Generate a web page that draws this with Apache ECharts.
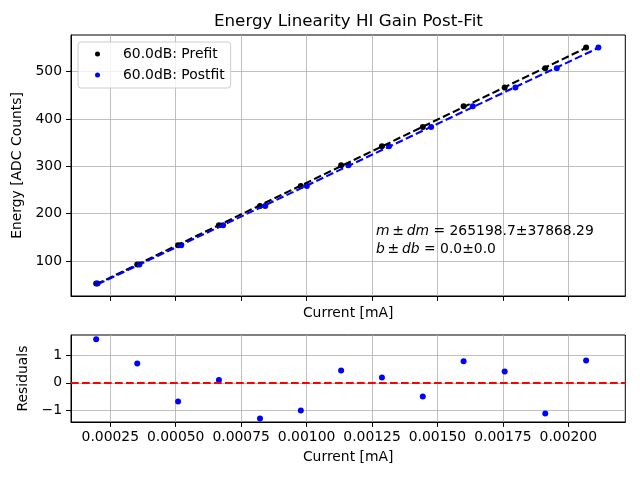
<!DOCTYPE html>
<html>
<head>
<meta charset="utf-8">
<script src="https://cdn.jsdelivr.net/npm/echarts@6/dist/echarts.min.js"></script>
<style>html,body{margin:0;padding:0;background:#fff}#chart{width:640px;height:480px}</style>
</head>
<body>
<div id="chart"></div>
<script>
// ---- data ----
const currentPrefit  = [0.000196, 0.000353, 0.000509, 0.000665, 0.000822, 0.000978, 0.001132, 0.001288, 0.001444, 0.001600, 0.001757, 0.001912, 0.002068];
const currentPostfit = [0.000201, 0.000361, 0.000521, 0.000681, 0.000842, 0.001001, 0.001160, 0.001315, 0.001476, 0.001635, 0.001798, 0.001956, 0.002115];
const energy         = [52.2, 92.4, 133.2, 175.5, 216.3, 258.6, 302.3, 342.5, 383.3, 427.0, 466.6, 507.4, 551.2];
const residuals      = [1.58, 0.70, -0.68, 0.10, -1.30, -1.01, 0.45, 0.19, -0.50, 0.78, 0.41, -1.12, 0.81];
const xTicks         = [0.00025, 0.0005, 0.00075, 0.001, 0.00125, 0.0015, 0.00175, 0.002];
const energyTicks    = [100, 200, 300, 400, 500];
const residualTicks  = [-1, 0, 1];
const legendNames    = ['60.0dB: Prefit', '60.0dB: Postfit'];
const titleText      = 'Energy Linearity HI Gain Post-Fit';

function zip(xs, ys) { return xs.map((x, i) => [x, ys[i]]); }
function linFit(xs, ys) {
  const n = xs.length;
  const mx = xs.reduce((a, b) => a + b, 0) / n;
  const my = ys.reduce((a, b) => a + b, 0) / n;
  let sxy = 0, sxx = 0;
  for (let i = 0; i < n; i++) { sxy += (xs[i] - mx) * (ys[i] - my); sxx += (xs[i] - mx) ** 2; }
  const m = sxy / sxx, b = my - m * mx;
  return xs.map(x => [x, m * x + b]);
}

const FONT = 'DejaVu Sans';
const FS = 13.9;
const DASH = [7.7, 3.3];
const tickStyle = { show: true, inside: false, length: 4.9, lineStyle: { color: '#000', width: 1 } };
const gridLine = { show: true, lineStyle: { color: '#b0b0b0', width: 0.8 } };
const axisLine = { show: true, onZero: false, lineStyle: { color: '#000', width: 1 } };
const minus = v => (v < 0 ? '\u2212' + Math.abs(v) : String(v));

const chart = echarts.init(document.getElementById('chart'), null, { renderer: 'canvas' });
chart.setOption({
  animation: false,
  textStyle: { fontFamily: FONT, color: '#000' },
  title: {
    text: titleText, left: 214, top: 13, padding: 0,
    textStyle: { fontFamily: FONT, fontSize: 16.7, fontWeight: 'normal', color: '#000' }
  },
  legend: {
    data: legendNames, orient: 'vertical', left: 78, top: 42,
    icon: 'circle', itemWidth: 5, itemHeight: 5, itemGap: 7,
    padding: [5, 6, 6, 17],
    backgroundColor: 'rgba(255,255,255,0.8)', borderColor: '#cccccc', borderWidth: 1, borderRadius: 3,
    textStyle: { fontFamily: FONT, fontSize: FS, color: '#000', lineHeight: 14, padding: [0, 0, 0, 18] },
    selectedMode: false
  },
  grid: [
    { left: 71, right: 14.7, top: 35, bottom: 184, show: true, borderColor: '#000', borderWidth: 1, outerBoundsMode: 'none' },
    { left: 71, right: 14.7, top: 335, bottom: 58, show: true, borderColor: '#000', borderWidth: 1, outerBoundsMode: 'none' }
  ],
  xAxis: [
    {
      type: 'value', gridIndex: 0, min: 0.0000998, max: 0.0022178,
      minInterval: 0.00025, maxInterval: 0.00025,
      axisLine, axisTick: Object.assign({ customValues: xTicks }, tickStyle),
      axisLabel: { show: false, customValues: xTicks },
      splitLine: gridLine,
      name: 'Current [mA]', nameLocation: 'middle', nameGap: 10,
      nameTextStyle: { fontFamily: FONT, fontSize: FS, color: '#000' }
    },
    {
      type: 'value', gridIndex: 1, min: 0.0000998, max: 0.0022178,
      minInterval: 0.00025, maxInterval: 0.00025,
      axisLine, axisTick: Object.assign({ customValues: xTicks }, tickStyle),
      axisLabel: { show: true, customValues: xTicks,
        margin: 8, fontFamily: FONT, fontSize: FS, color: '#000', formatter: v => v.toFixed(5) },
      splitLine: gridLine,
      name: 'Current [mA]', nameLocation: 'middle', nameGap: 28,
      nameTextStyle: { fontFamily: FONT, fontSize: FS, color: '#000' }
    }
  ],
  yAxis: [
    {
      type: 'value', gridIndex: 0, min: 26.05, max: 577.5,
      minInterval: 100, maxInterval: 100,
      axisLine, axisTick: Object.assign({ customValues: energyTicks }, tickStyle),
      axisLabel: { customValues: energyTicks,
        margin: 9, fontFamily: FONT, fontSize: FS, color: '#000' },
      splitLine: gridLine,
      name: 'Energy [ADC Counts]', nameLocation: 'middle', nameGap: 38,
      nameTextStyle: { fontFamily: FONT, fontSize: FS, color: '#000' }
    },
    {
      type: 'value', gridIndex: 1, min: -1.425, max: 1.738,
      minInterval: 1, maxInterval: 1,
      axisLine, axisTick: Object.assign({ customValues: residualTicks }, tickStyle),
      axisLabel: { customValues: residualTicks,
        margin: 9, fontFamily: FONT, fontSize: FS, color: '#000', formatter: minus },
      splitLine: gridLine,
      name: 'Residuals', nameLocation: 'middle', nameGap: 31,
      nameTextStyle: { fontFamily: FONT, fontSize: FS, color: '#000' }
    }
  ],
  series: [
    {
      name: legendNames[0], type: 'scatter', xAxisIndex: 0, yAxisIndex: 0,
      data: zip(currentPrefit, energy), symbolSize: 6, itemStyle: { color: '#000000', opacity: 1 }, z: 3
    },
    {
      name: legendNames[1], type: 'scatter', xAxisIndex: 0, yAxisIndex: 0,
      data: zip(currentPostfit, energy), symbolSize: 6, itemStyle: { color: '#0000ff', opacity: 1 }, z: 3
    },
    {
      name: 'Prefit fit', type: 'line', xAxisIndex: 0, yAxisIndex: 0,
      data: linFit(currentPrefit, energy), showSymbol: false, symbol: 'none',
      lineStyle: { color: '#000000', width: 2.1, type: DASH }, z: 4
    },
    {
      name: 'Postfit fit', type: 'line', xAxisIndex: 0, yAxisIndex: 0,
      data: linFit(currentPostfit, energy), showSymbol: false, symbol: 'none',
      lineStyle: { color: '#0000ff', width: 2.1, type: DASH }, z: 4
    },
    {
      name: 'Residuals', type: 'scatter', xAxisIndex: 1, yAxisIndex: 1,
      data: zip(currentPrefit, residuals), symbolSize: 6, itemStyle: { color: '#0000ff', opacity: 1 }, z: 3,
      markLine: {
        silent: true, symbol: ['none', 'none'], label: { show: false },
        lineStyle: { color: '#ff0000', width: 2.1, type: DASH },
        data: [{ yAxis: 0 }]
      }
    }
  ],
  graphic: [
    {
      type: 'text', left: 376, top: 222, z: 10,
      style: {
        text: '{i|m}\u2009±\u2009{i|dm} = 265198.7±37868.29\n{i|b}\u2009±\u2009{i|db} = 0.0±0.0',
        fontFamily: FONT, fontSize: FS, fill: '#000', lineHeight: 18,
        rich: { i: { fontFamily: FONT, fontSize: FS, fontStyle: 'italic', lineHeight: 18 } }
      }
    }
  ]
});
</script>
</body>
</html>
